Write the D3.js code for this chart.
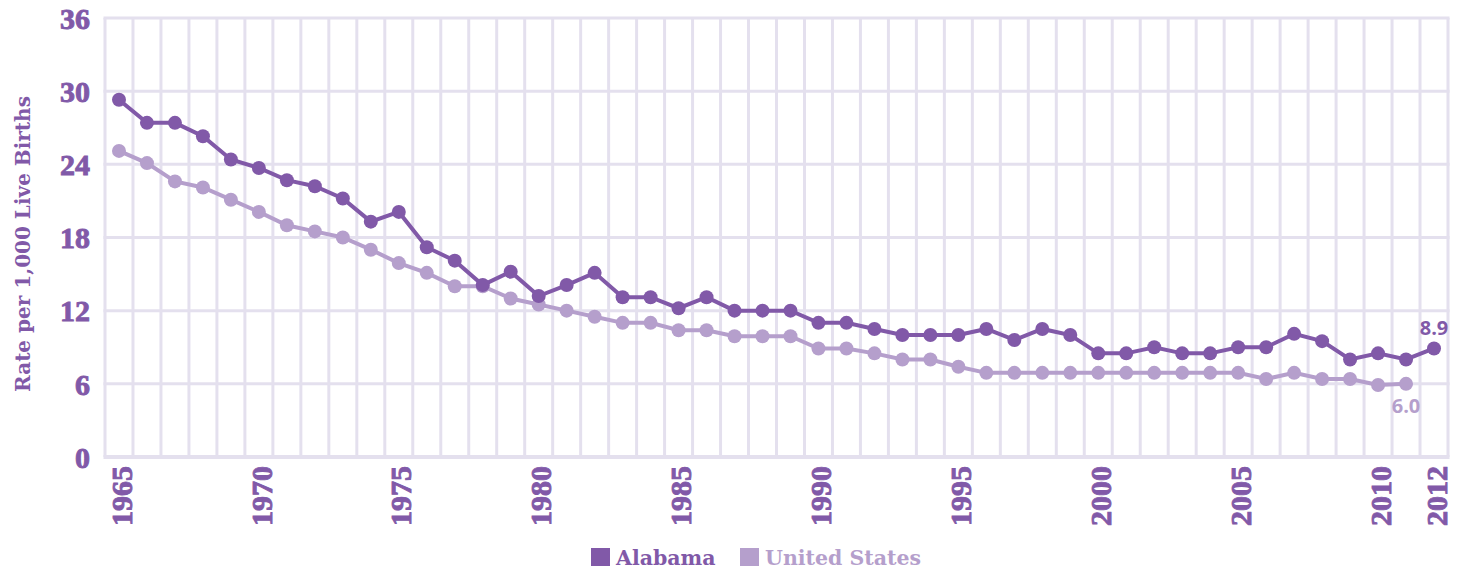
<!DOCTYPE html>
<html>
<head>
<meta charset="utf-8">
<script src="https://cdn.jsdelivr.net/npm/d3@7"></script>
<style>
  html, body { margin: 0; padding: 0; background: #fff; }
  svg { display: block; }
</style>
</head>
<body>
<svg id="chart" width="1461" height="572"></svg>
<script>
// Infant mortality rate per 1,000 live births
const years = d3.range(1965, 2013);
const alabama = [29.3, 27.4, 27.4, 26.3, 24.4, 23.7, 22.7, 22.2, 21.2, 19.3,
                 20.1, 17.2, 16.1, 14.1, 15.2, 13.2, 14.1, 15.1, 13.1, 13.1,
                 12.2, 13.1, 12.0, 12.0, 12.0, 11.0, 11.0, 10.5, 10.0, 10.0,
                 10.0, 10.5, 9.6, 10.5, 10.0, 8.5, 8.5, 9.0, 8.5, 8.5,
                 9.0, 9.0, 10.1, 9.5, 8.0, 8.5, 8.0, 8.9];
const unitedStates = [25.1, 24.1, 22.6, 22.1, 21.1, 20.1, 19.0, 18.5, 18.0, 17.0,
                      15.9, 15.1, 14.0, 14.0, 13.0, 12.5, 12.0, 11.5, 11.0, 11.0,
                      10.4, 10.4, 9.9, 9.9, 9.9, 8.9, 8.9, 8.5, 8.0, 8.0,
                      7.4, 6.9, 6.9, 6.9, 6.9, 6.9, 6.9, 6.9, 6.9, 6.9,
                      6.9, 6.4, 6.9, 6.4, 6.4, 5.9, 6.0];
const xTickYears = [1965, 1970, 1975, 1980, 1985, 1990, 1995, 2000, 2005, 2010, 2012];
const yTicks = [0, 6, 12, 18, 24, 30, 36];
const seriesNames = ["Alabama", "United States"];
const endLabels = ["8.9", "6.0"];

const dark = "#8159a8";
const light = "#b59fcc";
const grid = "#e4e0ee";
const serif = "'Liberation Serif', 'DejaVu Serif', serif";
const slab = "'DejaVu Serif', serif";
const sans = "'Open Sans', 'DejaVu Sans', sans-serif";

const svg = d3.select("#chart");
const plotLeft = 105, plotRight = 1448, plotTop = 18, plotBottom = 457;

const xBand = d3.scaleBand().domain(years).range([plotLeft, plotRight]).padding(0);
const xc = yr => xBand(yr) + xBand.bandwidth() / 2;
const y = d3.scaleLinear().domain([0, 36]).range([plotBottom, plotTop]);

// grid: vertical lines at band edges, horizontal lines at ticks
const g = svg.append("g");
const edges = years.map(yr => xBand(yr)).concat([plotRight]);
g.selectAll("line.v").data(edges).join("line")
  .attr("class", "v")
  .attr("x1", d => d).attr("x2", d => d)
  .attr("y1", plotTop).attr("y2", plotBottom)
  .attr("stroke", grid).attr("stroke-width", 3);
g.selectAll("line.h").data(yTicks).join("line")
  .attr("class", "h")
  .attr("x1", plotLeft - 1.5).attr("x2", plotRight + 1.5)
  .attr("y1", d => y(d)).attr("y2", d => y(d))
  .attr("stroke", grid).attr("stroke-width", d => d === 0 ? 4 : 3);

// y axis labels (heavy serif digits)
const yAxis = d3.axisLeft(y).tickValues(yTicks).tickSize(0).tickPadding(0);
const ya = svg.append("g").attr("transform", "translate(90,0)").call(yAxis);
ya.select(".domain").remove();
ya.selectAll("text")
  .attr("fill", dark).attr("stroke", dark).attr("stroke-width", 0.9)
  .attr("font-family", serif).attr("font-weight", "bold")
  .attr("font-size", 30).attr("dy", "0.34em");

// x axis labels (rotated)
const xAxis = d3.axisBottom(d3.scaleLinear().domain([1965, 2012]).range([xc(1965), xc(2012)]))
  .tickValues(xTickYears).tickFormat(d3.format("d")).tickSize(0).tickPadding(0);
const xa = svg.append("g").attr("transform", "translate(2,466)").call(xAxis);
xa.select(".domain").remove();
xa.selectAll("text")
  .attr("fill", dark).attr("stroke", dark).attr("stroke-width", 0.9)
  .attr("font-family", serif).attr("font-weight", "bold")
  .attr("font-size", 30)
  .attr("text-anchor", "end")
  .attr("transform", "rotate(-90)")
  .attr("x", 0).attr("y", 0).attr("dx", 0).attr("dy", "0.34em");

// y axis title
svg.append("text")
  .attr("transform", `translate(30,${(100 + 388) / 2}) rotate(-90)`)
  .attr("text-anchor", "middle")
  .attr("fill", dark).attr("font-family", slab).attr("font-weight", "bold")
  .attr("font-size", 20)
  .text("Rate per 1,000 Live Births");

// series lines and dots
const line = d3.line().x(d => xc(d[0])).y(d => y(d[1]));
const series = [
  { name: seriesNames[1], values: unitedStates, color: light },
  { name: seriesNames[0], values: alabama, color: dark }
];
series.forEach(s => {
  const pts = s.values.map((v, i) => [years[i], v]);
  svg.append("path").datum(pts)
    .attr("d", line).attr("fill", "none")
    .attr("stroke", s.color).attr("stroke-width", 4);
  svg.append("g").selectAll("circle").data(pts).join("circle")
    .attr("cx", d => xc(d[0])).attr("cy", d => y(d[1]))
    .attr("r", 7).attr("fill", s.color);
});

// end value labels
const lastAl = alabama.length - 1;
svg.append("text")
  .attr("x", xc(years[lastAl])).attr("y", y(alabama[lastAl]) - 13)
  .attr("text-anchor", "middle").attr("fill", dark)
  .attr("font-family", sans).attr("font-weight", "bold").attr("font-size", 20)
  .text(endLabels[0]);
const lastUs = unitedStates.length - 1;
svg.append("text")
  .attr("x", xc(years[lastUs])).attr("y", y(unitedStates[lastUs]) + 29)
  .attr("text-anchor", "middle").attr("fill", light)
  .attr("font-family", sans).attr("font-weight", "bold").attr("font-size", 20)
  .text(endLabels[1]);

// legend
const legend = svg.append("g").attr("transform", "translate(591,548)");
const legendItems = [
  { name: seriesNames[0], color: dark, x: 0 },
  { name: seriesNames[1], color: light, x: 149 }
];
legendItems.forEach(it => {
  legend.append("rect").attr("x", it.x).attr("y", 0)
    .attr("width", 19).attr("height", 18).attr("fill", it.color);
  legend.append("text").attr("x", it.x + 25).attr("y", 17)
    .attr("fill", it.color).attr("font-family", slab).attr("font-weight", "bold")
    .attr("font-size", 20.5).text(it.name);
});
</script>
</body>
</html>
